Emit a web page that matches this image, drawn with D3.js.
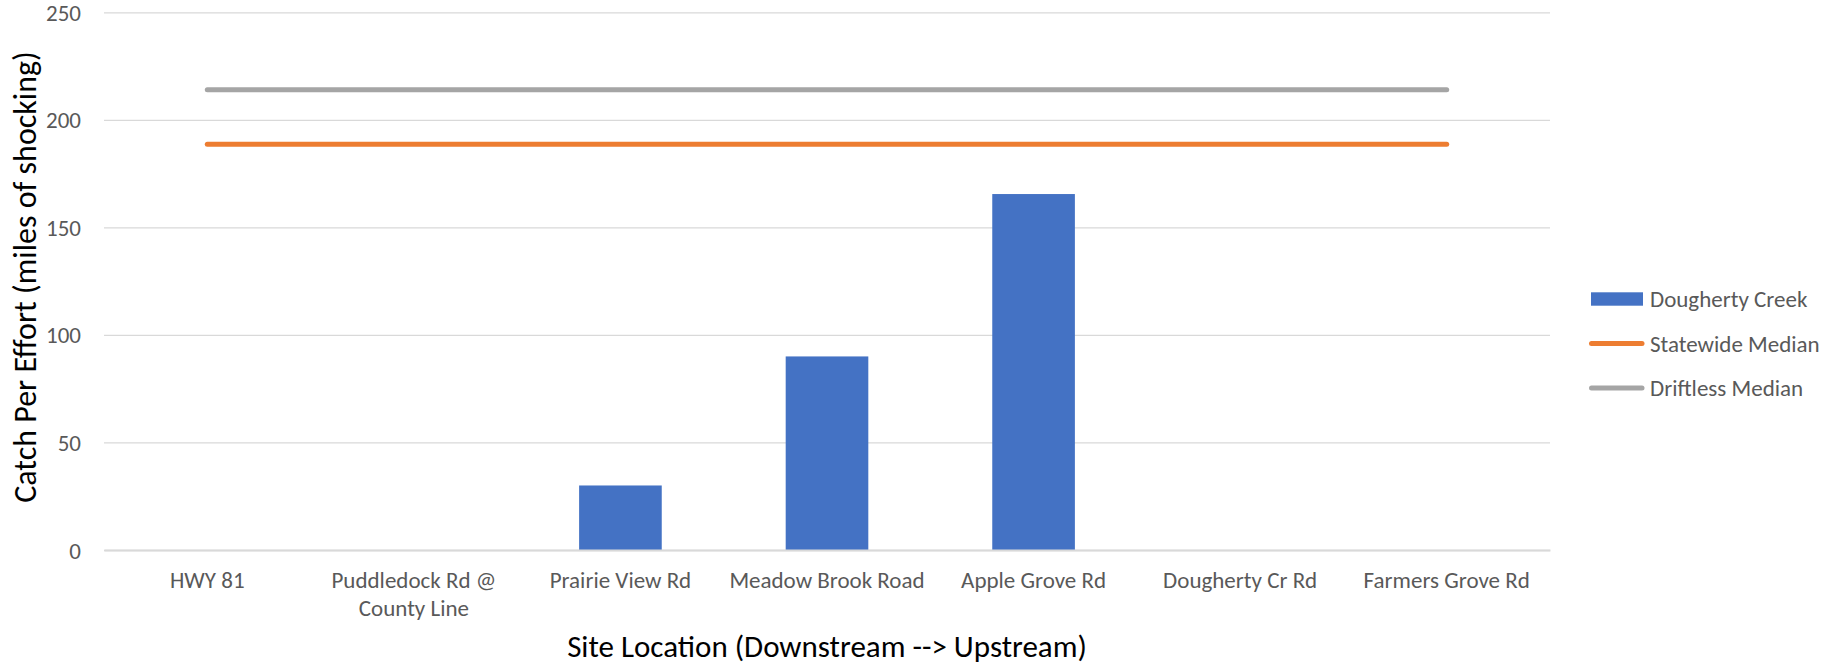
<!DOCTYPE html>
<html>
<head>
<meta charset="utf-8">
<script src="https://cdn.jsdelivr.net/npm/d3@7"></script>
<style>
  html, body { margin: 0; padding: 0; background: #ffffff; }
  svg { display: block; }
  text { font-family: Carlito, Calibri, Lato, "Open Sans", sans-serif; }
</style>
</head>
<body>
<svg id="chart" width="1828" height="670"></svg>
<script>
// ---- data ----
const categories = ["HWY 81", "Puddledock Rd @ County Line", "Prairie View Rd", "Meadow Brook Road", "Apple Grove Rd", "Dougherty Cr Rd", "Farmers Grove Rd"];
const creekValues = [0, 0, 30, 90, 165.5, 0, 0];
const statewideMedian = [188.6, 188.6, 188.6, 188.6, 188.6, 188.6, 188.6];
const driftlessMedian = [214, 214, 214, 214, 214, 214, 214];
const yTicks = [0, 50, 100, 150, 200, 250];
const seriesNames = ["Dougherty Creek", "Statewide Median", "Driftless Median"];
const xTitle = "Site Location (Downstream --> Upstream)";
const yTitle = "Catch Per Effort (miles of shocking)";

// ---- layout ----
const svg = d3.select("#chart");
const plot = { left: 104, right: 1550, top: 12.3, bottom: 550 };
const colors = { bar: "#4472c4", state: "#ed7d31", drift: "#a5a5a5", grid: "#d9d9d9", label: "#595959" };
const labelSize = "23px";

const x = d3.scaleBand().domain(categories).range([plot.left, plot.right]).paddingInner(0.6).paddingOuter(0.3);
const xc = d => x(d) + x.bandwidth() / 2;
const y = d3.scaleLinear().domain([0, 250]).range([plot.bottom, plot.top]);

// gridlines
const yAxis = d3.axisLeft(y).tickValues(yTicks).tickSize(-(plot.right - plot.left)).tickPadding(23);
const gy = svg.append("g").attr("transform", `translate(${plot.left},0)`).call(yAxis);
gy.select(".domain").remove();
gy.selectAll(".tick line").attr("stroke", colors.grid).attr("stroke-width", 1.3);
gy.selectAll(".tick text").attr("fill", colors.label).style("font-size", labelSize)
  .attr("font-family", null).attr("dy", "0.35em");

// bars
svg.append("g").selectAll("rect").data(categories.map((c, i) => ({ c, v: creekValues[i] })).filter(d => d.v > 0))
  .join("rect")
  .attr("x", d => x(d.c)).attr("width", x.bandwidth())
  .attr("y", d => y(d.v)).attr("height", d => y(0) - y(d.v))
  .attr("fill", colors.bar);

// x axis
const xAxis = d3.axisBottom(x).tickSize(0).tickPadding(0);
const gx = svg.append("g").attr("transform", `translate(0,${plot.bottom})`).call(xAxis);
gx.select(".domain").attr("stroke", colors.grid).attr("stroke-width", 2);
gx.selectAll(".tick text").attr("fill", colors.label).style("font-size", labelSize).attr("font-family", null)
  .each(function (d) {
    const t = d3.select(this);
    const words = d.split(" ");
    t.text(null);
    const maxW = x.step() * 1.0;
    let lines = [], cur = [];
    const probe = t.append("tspan");
    words.forEach(w => {
      const test = cur.concat(w).join(" ");
      probe.text(test);
      if (probe.node().getComputedTextLength() > maxW && cur.length) { lines.push(cur.join(" ")); cur = [w]; }
      else cur.push(w);
    });
    lines.push(cur.join(" "));
    probe.remove();
    lines.forEach((l, i) => t.append("tspan").attr("x", 0).attr("y", 30 + i * 28).attr("dy", "0.35em").text(l));
  });

// lines
const line = d3.line().x((d, i) => xc(categories[i])).y(d => y(d));
svg.append("path").datum(driftlessMedian).attr("d", line).attr("fill", "none")
  .attr("stroke", colors.drift).attr("stroke-width", 5).attr("stroke-linecap", "round");
svg.append("path").datum(statewideMedian).attr("d", line).attr("fill", "none")
  .attr("stroke", colors.state).attr("stroke-width", 5).attr("stroke-linecap", "round");

// axis titles
svg.append("text").attr("x", (plot.left + plot.right) / 2).attr("y", 646).attr("dy", "0.35em")
  .attr("text-anchor", "middle").style("font-size", "31px").attr("fill", "#000").text(xTitle);
svg.append("text").attr("transform", `translate(25,277) rotate(-90)`).attr("dy", "0.35em")
  .attr("text-anchor", "middle").style("font-size", "32px").attr("fill", "#000").text(yTitle);

// legend
const legend = svg.append("g").attr("transform", "translate(1591,299)");
const legendColors = [colors.bar, colors.state, colors.drift];
seriesNames.forEach((name, i) => {
  const g = legend.append("g").attr("transform", `translate(0,${i * 44.5})`);
  if (i === 0) {
    g.append("rect").attr("x", 0).attr("y", -6.7).attr("width", 52).attr("height", 13.4).attr("fill", legendColors[i]);
  } else {
    g.append("line").attr("x1", 0.5).attr("x2", 51).attr("y1", 0).attr("y2", 0)
      .attr("stroke", legendColors[i]).attr("stroke-width", 5).attr("stroke-linecap", "round");
  }
  g.append("text").attr("x", 59).attr("y", 0).attr("dy", "0.35em").style("font-size", labelSize)
    .attr("fill", colors.label).text(name);
});
</script>
</body>
</html>
